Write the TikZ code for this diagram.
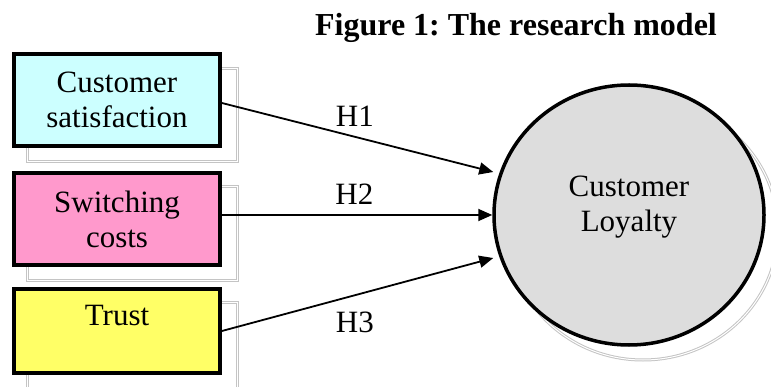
\documentclass[tikz,border=0pt]{standalone}
\usepackage{xcolor}
\usepackage{fontspec}
\setmainfont{Liberation Serif}
\usepackage{tikz}
\usetikzlibrary{shapes.geometric,arrows.meta,positioning}
\frenchspacing
\definecolor{satcyan}{RGB}{204,255,255}
\definecolor{costpink}{RGB}{255,153,204}
\definecolor{trustyellow}{RGB}{255,255,102}
\definecolor{loyalgray}{RGB}{221,221,221}
\definecolor{shadowgray}{RGB}{196,196,196}
\tikzset{
  factor/.style={draw=black, line width=3.8pt, minimum width=206pt, inner sep=0pt, align=center},
  shadowline/.style={draw=shadowgray, double=white, double distance=1pt, line width=1pt},
  hyp/.style={line width=1.8pt, -{Triangle[length=14pt,width=12pt]}},
  bodytext/.style={font=\fontsize{31}{35}\selectfont, inner sep=0pt, align=center}
}

\begin{document}
\begin{tikzpicture}[x=1pt,y=-1pt]
\useasboundingbox (0,0) rectangle (771,387);
\draw[shadowline] (27,69) rectangle (237,162);
\draw[shadowline] (27,187) rectangle (237,281);
\draw[shadowline] (27,303) rectangle (237,392);
\draw[shadowline] (643,230) ellipse [x radius=135pt, y radius=130pt];
\node[bodytext, font=\bfseries\fontsize{32}{36}\selectfont] (title) at (516,28) {Figure 1: The research model};
\node[factor, bodytext, fill=satcyan, minimum height=92pt] (sat) at (117,100) {Customer\\satisfaction};
\node[factor, bodytext, fill=costpink, minimum height=92pt] (cost) at (117,219) {Switching\\costs};
\node[factor, bodytext, fill=trustyellow, minimum height=84pt] (trust) at (117,331) {Trust\\[-3pt]\mbox{}};
\node[ellipse, draw=black, line width=3.5pt, fill=loyalgray, minimum width=270pt, minimum height=260pt, inner sep=0pt] (loyalty) at (629,215) {};
\node[bodytext] (loyaltytext) at ([yshift=8pt]loyalty.center) {Customer\\Loyalty};
\coordinate (h1tip) at ([xshift=1pt,yshift=43pt]loyalty.west);
\coordinate (h3tip) at ([xshift=1pt,yshift=-43pt]loyalty.west);
\draw[hyp] ([yshift=-3pt]sat.east) -- (h1tip) node[bodytext, pos=0.49, yshift=21pt] (h1) {H1};
\draw[hyp] (cost.east |- loyalty.west) -- (loyalty.west) node[bodytext, pos=0.49, yshift=21pt] (h2) {H2};
\draw[hyp] (trust.east) -- (h3tip) node[bodytext, pos=0.49, yshift=-27pt] (h3) {H3};
\end{tikzpicture}
\end{document}
